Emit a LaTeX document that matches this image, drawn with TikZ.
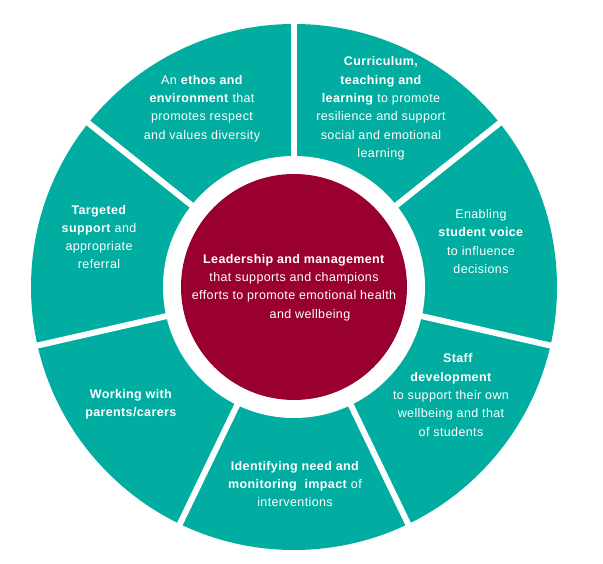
\documentclass[tikz,border=0pt]{standalone}
\usepackage{fontspec}
\setmainfont{Liberation Sans}[LetterSpace=3.0]
\definecolor{ringteal}{RGB}{0,173,160}
\definecolor{hubred}{RGB}{153,0,48}
\begin{document}
\begin{tikzpicture}[x=1pt,y=1pt,
  lbl/.style={text=white, align=center, inner sep=0pt,
    font=\fontsize{12.5}{18.3}\selectfont},
  divider/.style={white, line width=6pt}]
\useasboundingbox (0,0) rectangle (603,564);
\coordinate (C) at (294,277);
\fill[ringteal] (C) circle (263);
\fill[white] (C) circle (131);
\fill[hubred] (C) circle (113);
\begin{scope}[shift={(C)}]
\foreach \k in {0,...,6}{
  \draw[divider] (90+\k*51.428571:118) -- (90+\k*51.428571:270);
}
\end{scope}
\node[lbl] (ethos) at (202,455.5) {An \textbf{ethos and}\\\textbf{environment} that\\promotes respect\\and values diversity};
\node[lbl] (curric) at (381,455.5) {\textbf{Curriculum,}\\\textbf{teaching and}\\\textbf{learning} to promote\\resilience and support\\social and emotional\\learning};
\node[lbl] (voice) at (481,322.5) {Enabling\\\textbf{student voice}\\to influence\\decisions};
\node[lbl] (staff) at (451,169) {\hspace*{14pt}\textbf{Staff}\\\textbf{development}\\to support their own\\wellbeing and that\\of students};
\node[lbl] (need) at (295,80) {\textbf{Identifying need and}\\\textbf{monitoring\ \ impact} of\\interventions};
\node[lbl] (parents) at (131,160) {\textbf{Working with}\\\textbf{parents/carers}};
\node[lbl] (target) at (99,327) {\textbf{Targeted}\\\textbf{support} and\\appropriate\\referral};
\node[lbl] (lead) at (294,276.5) {\textbf{Leadership and management}\\that supports and champions\\efforts to promote emotional health\\\hspace*{32pt}and wellbeing};
\end{tikzpicture}
\end{document}
